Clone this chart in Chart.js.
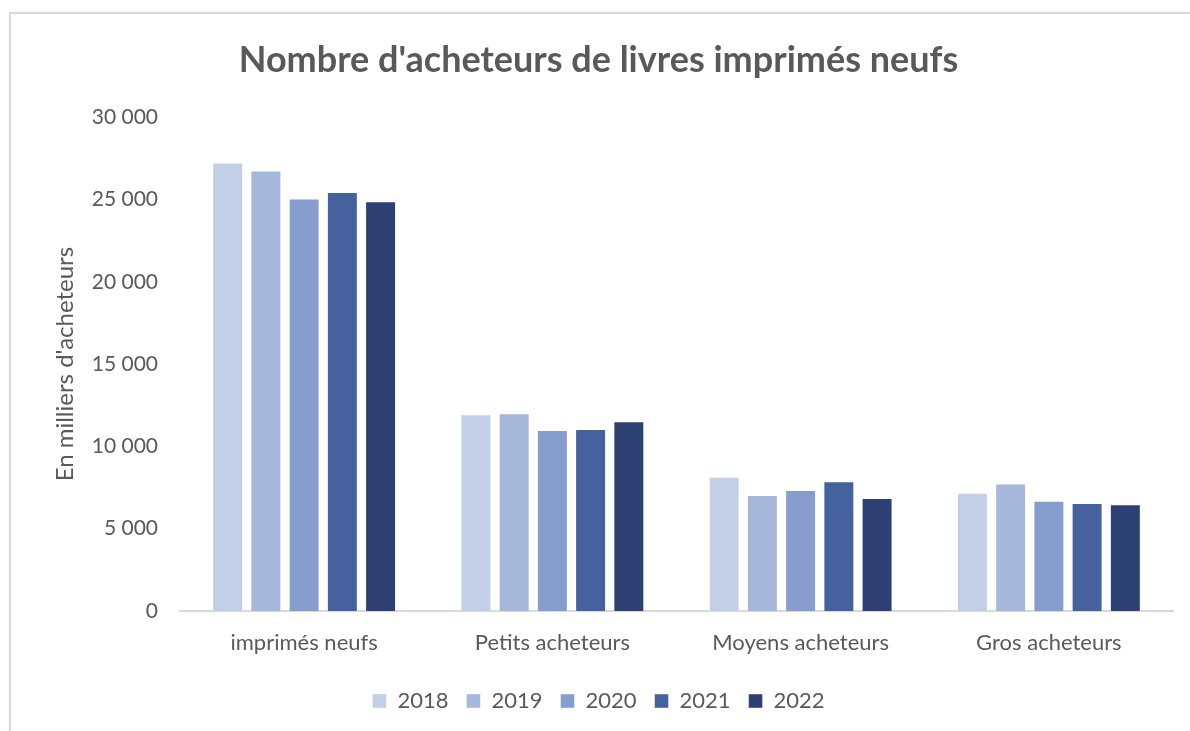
<!DOCTYPE html>
<html>
<head>
<meta charset="utf-8">
<script src="https://cdn.jsdelivr.net/npm/chart.js@4"></script>
<style>
  html, body { margin: 0; padding: 0; background: #fff; }
  #wrap { position: relative; width: 1190px; height: 731px; }
  #frame {
    position: absolute; left: 9px; top: 12px; right: -4px; bottom: -4px;
    border-top: 2px solid #d9d9d9; border-left: 2px solid #d9d9d9;
    pointer-events: none;
  }
  canvas { position: absolute; left: 0; top: 0; }
</style>
</head>
<body>
<div id="wrap">
  <canvas id="chart" width="1190" height="731"></canvas>
  <div id="frame"></div>
</div>
<script>
const categories = ['imprimés neufs', 'Petits acheteurs', 'Moyens acheteurs', 'Gros acheteurs'];
const years = ['2018', '2019', '2020', '2021', '2022'];

const v2018 = [27250, 11960, 8150, 7180];
const v2019 = [26760, 12020, 7040, 7750];
const v2020 = [25060, 10990, 7350, 6700];
const v2021 = [25460, 11050, 7890, 6560];
const v2022 = [24900, 11530, 6860, 6480];

const yTicks = [0, 5000, 10000, 15000, 20000, 25000, 30000];

const colors = ['#c3cfe6', '#a5b7db', '#859ecd', '#45619e', '#2e3f73'];
const series = [v2018, v2019, v2020, v2021, v2022];

const textColor = '#595959';
const fontFamily = 'Lato, "Open Sans", sans-serif';

const fmt = (v) => String(v).replace(/\B(?=(\d{3})+(?!\d))/g, ' ');

const ctx = document.getElementById('chart').getContext('2d');
new Chart(ctx, {
  type: 'bar',
  data: {
    labels: categories,
    datasets: years.map((y, i) => ({
      label: y,
      data: series[i],
      backgroundColor: colors[i],
      borderColor: 'rgba(255,255,255,0.45)',
      borderWidth: 1,
      categoryPercentage: 0.77,
      barPercentage: 0.81,
    })),
  },
  options: {
    responsive: false,
    animation: false,
    layout: { padding: { left: 24, right: 17, top: 0, bottom: 9 } },
    plugins: {
      title: {
        display: true,
        text: "Nombre d'acheteurs de livres imprimés neufs",
        color: textColor,
        font: { family: fontFamily, size: 36, weight: 'bold' },
        padding: { top: 39, bottom: 35 },
      },
      legend: {
        position: 'bottom',
        labels: {
          color: textColor,
          font: { family: fontFamily, size: 22 },
          boxWidth: 14,
          boxHeight: 14,
          padding: 18,
        },
      },
      tooltip: { enabled: false },
    },
    scales: {
      x: {
        afterFit: (scale) => { scale.height = 61; },
        grid: { display: false, drawTicks: false },
        border: { color: '#d9d9d9', width: 2 },
        ticks: {
          color: textColor,
          font: { family: fontFamily, size: 22 },
          padding: 19,
          maxRotation: 0,
        },
      },
      y: {
        min: 0,
        max: 30000,
        afterBuildTicks: (scale) => {
          scale.ticks = yTicks.map((v) => ({ value: v }));
        },
        afterFit: (scale) => { scale.width = 156; },
        grid: { display: false, drawTicks: false },
        border: { display: false },
        ticks: {
          color: textColor,
          font: { family: fontFamily, size: 21 },
          padding: 22,
          callback: (v) => fmt(v),
        },
        title: {
          display: true,
          text: "En milliers d'acheteurs",
          color: textColor,
          font: { family: fontFamily, size: 24 },
          padding: { top: 27, bottom: 0 },
        },
      },
    },
  },
});
</script>
</body>
</html>
